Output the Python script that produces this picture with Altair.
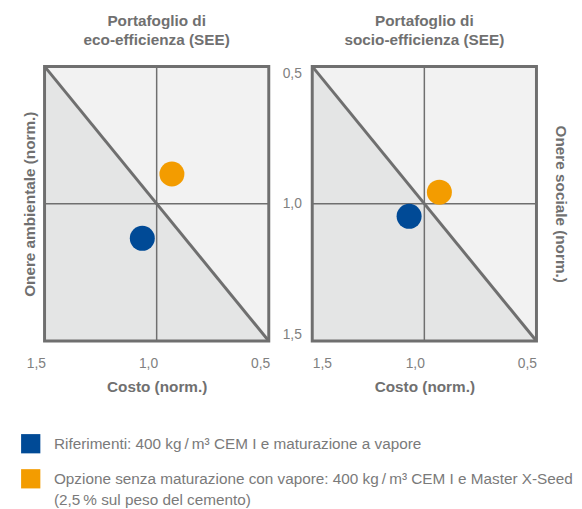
import altair as alt
import pandas as pd

# ---------------- data ----------------
series = ["Riferimenti", "Opzione senza maturazione"]
legend_labels = [
    "Riferimenti: 400 kg\u2009/\u2009m\u00b3 CEM I e maturazione a vapore",
    "Opzione senza maturazione con vapore: 400 kg\u2009/\u2009m\u00b3 CEM I e Master X-Seed\n(2,5\u2009% sul peso del cemento)",
]
colors = ["#004a96", "#f39c00"]

eco_costo = [1.064, 0.932]
eco_onere = [1.126, 0.892]
socio_costo = [1.068, 0.933]
socio_onere = [1.046, 0.958]

tick_values = [1.5, 1.0, 0.5]
axis_min, axis_max, center = 0.5, 1.5, 1.0

eco_title = ["Portafoglio di", "eco-efficienza (SEE)"]
socio_title = ["Portafoglio di", "socio-efficienza (SEE)"]
x_title = "Costo (norm.)"
eco_ytitle = "Onere ambientale (norm.)"
socio_ytitle = "Onere sociale (norm.)"

# ---------------- styles ----------------
FONT = "Liberation Sans"
LIGHT = "#f2f2f2"
DARK = "#e4e5e5"
LINE = "#6f6f6f"
TITLE_C = "#707070"
LABEL_C = "#808080"
LBL = "replace(format(datum.value, '.1f'), '.', ',')"
W, H = 227, 278


def panel(title_lines, costo, onere, socio):
    xs = alt.Scale(domain=[axis_min, axis_max], reverse=True, nice=False, zero=False)
    ys = alt.Scale(domain=[axis_min, axis_max], reverse=True, nice=False, zero=False)
    if socio:
        x_axis = alt.Axis(title=x_title, values=tick_values, labelExpr=LBL,
                          labelAlign={"expr": "datum.value == 1.5 ? 'left' : 'right'"},
                          labelFlush=False, labelPadding=16, titlePadding=9)
        y_axis = alt.Axis(title=None, values=tick_values, labelExpr=LBL,
                          labelFlush=True, labelPadding=11, orient="left")
    else:
        x_axis = alt.Axis(title=x_title, values=tick_values, labelExpr=LBL,
                          labelAlign="right", labelFlush=False, labelPadding=16,
                          labelOffset=1, titlePadding=9)
        y_axis = alt.Axis(title=eco_ytitle, labels=False, values=tick_values,
                          titlePadding=7)
    X = alt.X("costo:Q", scale=xs, axis=x_axis)
    Y = alt.Y("onere:Q", scale=ys, axis=y_axis)

    tri_df = pd.DataFrame({"costo": [axis_max, axis_min], "onere": [axis_min, axis_max],
                           "onere2": [axis_max, axis_max]})
    frame_df = pd.DataFrame({"costo": [axis_max], "costo2": [axis_min],
                             "onere": [axis_min], "onere2": [axis_max]})
    center_df = pd.DataFrame({"costo": [center], "onere": [center]})
    pts_df = pd.DataFrame({"costo": costo, "onere": onere, "serie": series})

    bg = alt.Chart(frame_df).mark_rect(color=LIGHT).encode(x=X, x2="costo2:Q", y=Y, y2="onere2:Q")
    area = alt.Chart(tri_df).mark_area(color=DARK, opacity=1).encode(x=X, y=Y, y2="onere2:Q")
    vrule = alt.Chart(center_df).mark_rule(color=LINE, strokeWidth=1.5).encode(x=X)
    hrule = alt.Chart(center_df).mark_rule(color=LINE, strokeWidth=1.5).encode(y=Y)
    diag = alt.Chart(tri_df).mark_line(color=LINE, strokeWidth=3).encode(x=X, y=Y)
    pts = alt.Chart(pts_df).mark_circle(size=640, opacity=1).encode(
        x=X, y=Y,
        color=alt.Color("serie:N", scale=alt.Scale(domain=series, range=colors), legend=None),
    )
    frame = alt.Chart(frame_df).mark_rect(filled=False, stroke=LINE, strokeWidth=3).encode(
        x=X, x2="costo2:Q", y=Y, y2="onere2:Q")
    main = alt.layer(bg, area, vrule, hrule, diag, pts, frame)
    if socio:
        side = alt.Chart(center_df).mark_point(opacity=0).encode(
            y=alt.Y("onere:Q", scale=alt.Scale(domain=[axis_min, axis_max], reverse=True, nice=False, zero=False),
                    axis=alt.Axis(title=socio_ytitle, orient="right", labels=False,
                                  values=tick_values, titlePadding=16)))
        main = alt.layer(main, side).resolve_scale(y="independent")
    return main.properties(
        width=W, height=H,
        title=alt.TitleParams(text=title_lines, anchor="middle", offset=12.5,
                              fontSize=15.5, fontWeight="bold", color=TITLE_C,
                              font=FONT, lineHeight=19),
    )


left = panel(eco_title, eco_costo, eco_onere, socio=False)
right = panel(socio_title, socio_costo, socio_onere, socio=True)
top = alt.hconcat(left, right, spacing=6)

# ---------------- legend ----------------
leg_df = pd.DataFrame({"serie": series, "label": legend_labels})
leg_y = alt.Y("serie:N", scale=alt.Scale(type="point", domain=series, range=[25, 60.5], padding=0),
              axis=None)
squares = alt.Chart(leg_df).mark_square(size=380, opacity=1).encode(
    x=alt.value(-14), y=leg_y,
    color=alt.Color("serie:N", scale=alt.Scale(domain=series, range=colors), legend=None),
)
texts = alt.Chart(leg_df).mark_text(
    align="left", baseline="top", dy=-6.5, lineBreak="\n", fontSize=15.5,
    color="#7a7a7a", lineHeight=21, font=FONT,
).encode(x=alt.value(9.5), y=leg_y, text="label:N")
legend = alt.layer(squares, texts).properties(width=500, height=62)

chart = alt.vconcat(top, legend, spacing=23).configure(
    font=FONT,
    padding={"left": 12, "top": 2, "right": 0, "bottom": 0},
).configure_view(stroke="transparent").configure_axis(
    grid=False, domain=False, ticks=False, tickSize=0,
    labelFont=FONT, labelFontSize=14, labelColor=LABEL_C,
    titleFont=FONT, titleFontSize=15.5, titleFontWeight="bold", titleColor=TITLE_C,
)

chart.save("out.html", embed_options={"renderer": "svg", "actions": False})
